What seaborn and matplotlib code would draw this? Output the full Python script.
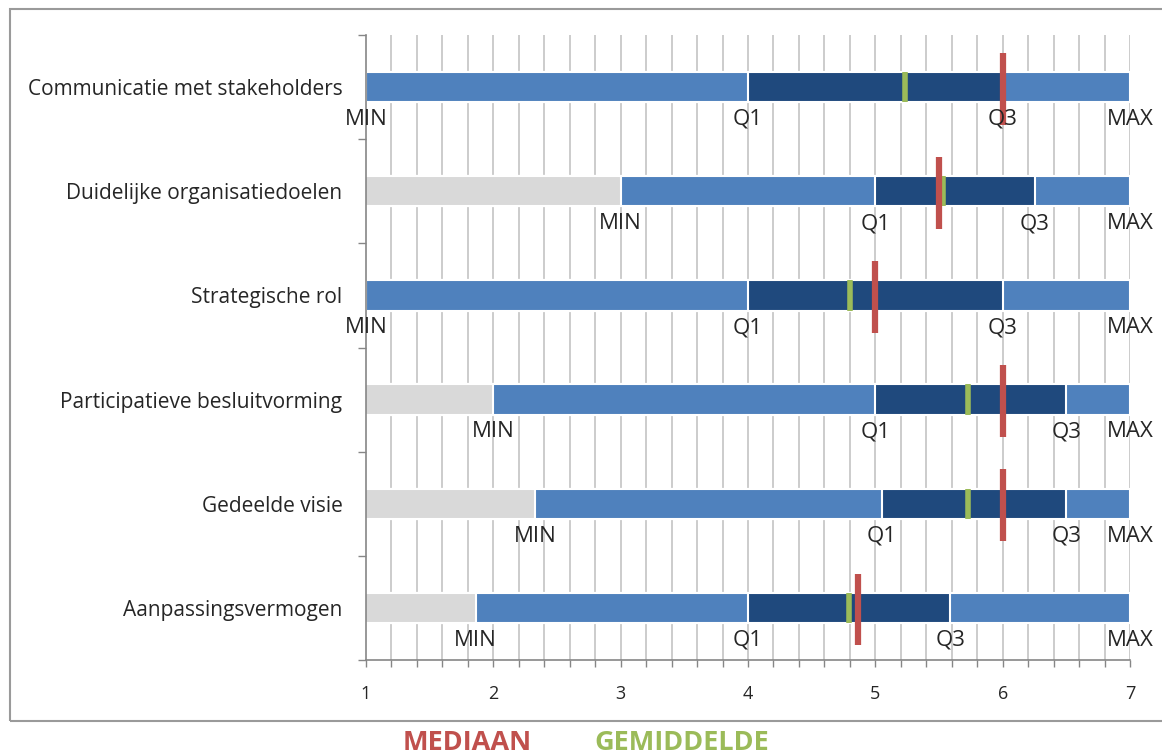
import numpy as np
import pandas as pd
import matplotlib
matplotlib.use("Agg")
import matplotlib.pyplot as plt
import seaborn as sns
from matplotlib.patches import Rectangle

# Scores per competentie (schaal 1-7)
categories = [
    "Communicatie met stakeholders",
    "Duidelijke organisatiedoelen",
    "Strategische rol",
    "Participatieve besluitvorming",
    "Gedeelde visie",
    "Aanpassingsvermogen",
]
min_vals = [1.0, 3.0, 1.0, 2.0, 2.33, 1.86]
q1_vals = [4.0, 5.0, 4.0, 5.0, 5.05, 4.0]
median_vals = [6.0, 5.5, 5.0, 6.0, 6.0, 4.86]
mean_vals = [5.23, 5.53, 4.80, 5.73, 5.73, 4.79]
q3_vals = [6.0, 6.25, 6.0, 6.5, 6.5, 5.59]
max_vals = [7.0, 7.0, 7.0, 7.0, 7.0, 7.0]
x_ticks = [1, 2, 3, 4, 5, 6, 7]

df = pd.DataFrame({
    "cat": categories, "min": min_vals, "q1": q1_vals, "median": median_vals,
    "mean": mean_vals, "q3": q3_vals, "max": max_vals,
})

LIGHT = "#d9d9d9"
MID = "#4f81bd"
DARK = "#1f497d"
RED = "#c0504d"
GREEN = "#9bbb59"
GRID = "#bfbfbf"
AXIS = "#868686"
TXT = "#262626"

sns.set_theme(style="white")
plt.rcParams["font.family"] = ["Open Sans", "DejaVu Sans"]

fig = plt.figure(figsize=(11.62, 7.56), dpi=100)
ax = fig.add_axes([366 / 1162, 1 - 660 / 756, 764 / 1162, 625 / 756])

# vertical gridlines every 0.2 behind the bars
minor = np.round(np.arange(1.2, 7.01, 0.2), 2)
for xv in minor:
    ax.axvline(xv, color=GRID, lw=1.1, zorder=0)

# stacked segments drawn as overlapping bars, longest first
bar_h = 0.29
for col, color in [("max", MID), ("q3", DARK), ("q1", MID), ("min", LIGHT)]:
    sns.barplot(data=df, x=col, y="cat", order=categories, orient="h",
                color=color, width=bar_h, edgecolor="white", linewidth=1.5,
                saturation=1, ax=ax, zorder=2)

ypos = np.arange(len(categories))
ax.vlines(df["mean"], ypos - bar_h / 2, ypos + bar_h / 2, color=GREEN, lw=4, zorder=4)
ax.vlines(df["median"], ypos - 0.33, ypos + 0.36, color=RED, lw=4.5, zorder=5)

# segment labels under each bar
lab_off = 0.31
for i, row in df.iterrows():
    for key, txt in [("min", "MIN"), ("q1", "Q1"), ("q3", "Q3"), ("max", "MAX")]:
        ax.text(row[key], i + lab_off, txt, ha="center", va="center",
                fontsize=16, color=TXT, zorder=6)

ax.set_xlim(1, 7)
ax.set_ylim(len(categories) - 0.5, -0.5)
ax.set_xlabel("")
ax.set_ylabel("")
ax.set_xticks(x_ticks)
ax.set_xticklabels([str(t) for t in x_ticks], fontsize=13, color=TXT)
ax.set_xticks(minor, minor=True)
ax.tick_params(axis="x", which="both", direction="out", length=5, width=1,
               color=AXIS, pad=13, bottom=True)
ax.set_yticks(ypos)
ax.set_yticklabels(categories, fontsize=15, color=TXT)
ax.set_yticks(np.arange(-0.5, len(categories)), minor=True)
ax.tick_params(axis="y", which="major", length=0, pad=17)
ax.tick_params(axis="y", which="minor", direction="out", length=6, width=1,
               color=AXIS, left=True)

for side in ["top", "right"]:
    ax.spines[side].set_visible(False)
for side in ["left", "bottom"]:
    ax.spines[side].set_color(AXIS)
    ax.spines[side].set_linewidth(1.2)
    ax.spines[side].set_zorder(3)

# chart frame
fig.patches.append(Rectangle((10 / 1162, 1 - 721 / 756), 1.1, (721 - 9) / 756,
                             transform=fig.transFigure, fill=False,
                             edgecolor="#9a9a9a", lw=1.5))

fig.text(467 / 1162, 1 - 743 / 756, "MEDIAAN", color=RED, fontsize=19.5,
         fontweight="bold", ha="center", va="center")
fig.text(682 / 1162, 1 - 743 / 756, "GEMIDDELDE", color=GREEN, fontsize=19.5,
         fontweight="bold", ha="center", va="center")

fig.savefig("out.png", dpi=100)
